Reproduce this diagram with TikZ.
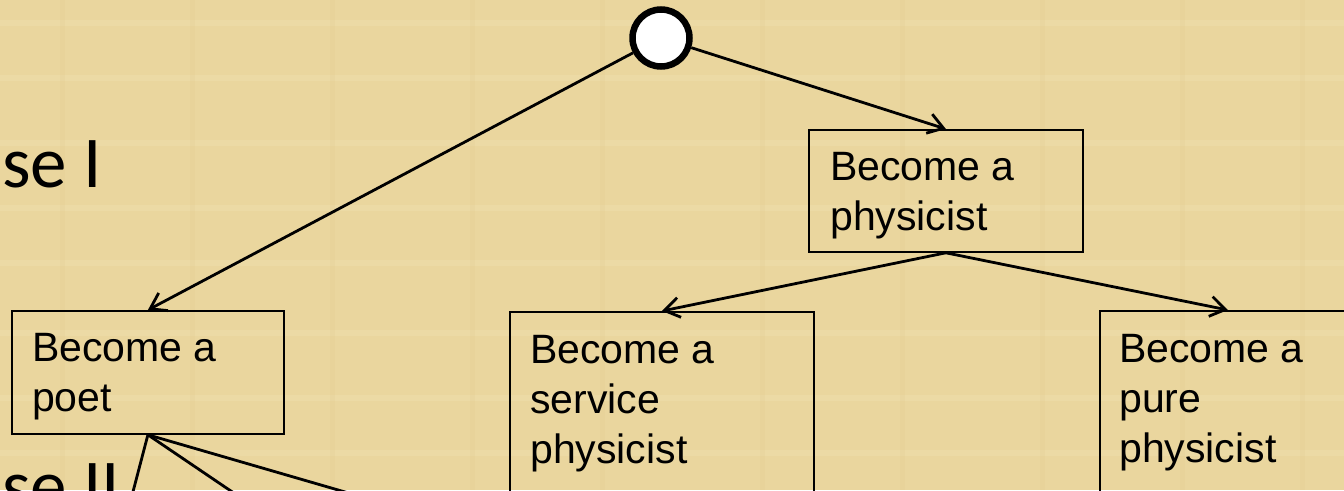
\documentclass[tikz,border=0pt]{standalone}
\usepackage{fontspec}
\setmainfont{Liberation Sans}
\newfontfamily\calib{Carlito}
\usetikzlibrary{arrows.meta}
\definecolor{parch}{RGB}{234,214,158}
\definecolor{parchlight}{RGB}{242,228,184}
\definecolor{parchdark}{RGB}{224,200,140}
\begin{document}
\begin{tikzpicture}[x=1pt,y=-1pt,
  box/.style={draw=black, line width=1.8pt, rectangle, inner sep=0pt, anchor=north west},
  tx/.style={font=\fontsize{41}{50}\selectfont, align=left, anchor=base west, inner sep=0pt},
  big/.style={font=\calib\fontsize{73}{80}\selectfont, anchor=base west, inner sep=0pt},
  arr/.style={line width=2.8pt, -{Straight Barb[length=15pt,width=20pt]}},
  ln/.style={line width=2.8pt},
  root/.style={circle, draw=black, fill=white, line width=6.5pt, minimum size=57pt, inner sep=0pt}]
\useasboundingbox (0,0) rectangle (1344,490);
\clip (0,0) rectangle (1344,490);
\fill[parch] (0,0) rectangle (1344,490);
% faint parchment texture
\foreach \yy in {20,75,140,205,260,330,395,450} {
  \fill[parchlight, opacity=0.3] (0,\yy) rectangle (1344,\yy+6);
}
\foreach \xx in {60,190,330,470,600,760,900,1040,1180,1300} {
  \fill[parchdark, opacity=0.2] (\xx,0) rectangle (\xx+5,490);
}

\node[big] (t1) at (2,187) {se I};
\node[big] (t2) at (2,510) {se II};

\node[root] (root) at (661,38) {};

\node[box, minimum width=274pt, minimum height=122pt] (phys) at (808,129) {};
\node[tx] (physT) at (830,230) {Become a\\physicist};

\node[box, minimum width=272pt, minimum height=123pt] (poet) at (11,310) {};
\node[tx] (poetT) at (32,411) {Become a\\poet};

\node[box, minimum width=304pt, minimum height=220pt] (serv) at (509,311) {};
\node[tx] (servT) at (530,463) {Become a\\service\\physicist};

\node[box, minimum width=256pt, minimum height=220pt] (pure) at (1099,310) {};
\node[tx] (pureT) at (1119,462) {Become a\\pure\\physicist};

\draw[arr] (root) -- (phys.north);
\draw[arr] (root) -- (poet.north);
\draw[arr] (phys.south) -- (serv.north);
\draw[arr] (phys.south) -- (pure.north);

\coordinate (e1) at (125.6,520);
\coordinate (e2) at (273.7,520);
\coordinate (e3) at (441.6,520);
\draw[ln] (poet.south) -- (e1);
\draw[ln] (poet.south) -- (e2);
\draw[ln] (poet.south) -- (e3);
\end{tikzpicture}
\end{document}
